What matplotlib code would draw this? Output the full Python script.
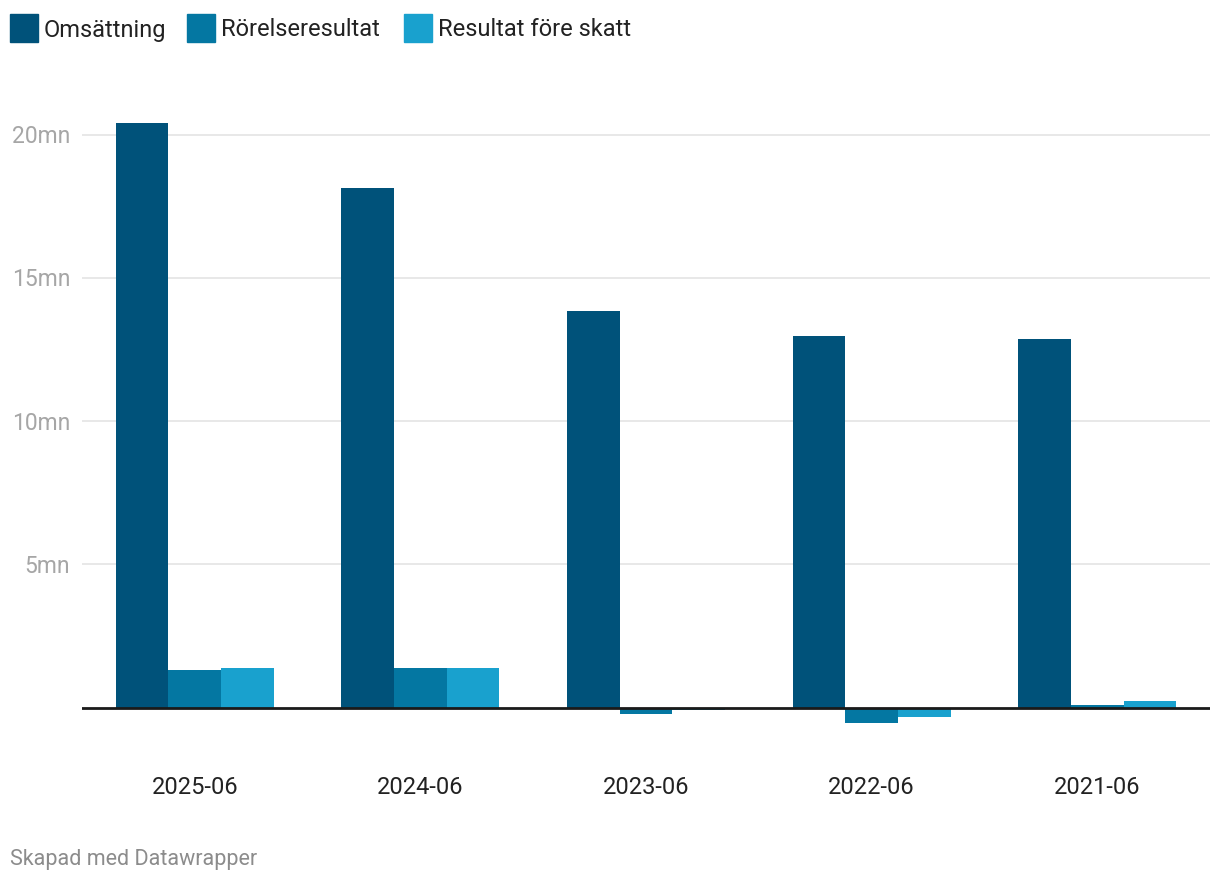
"""Bar chart: Omsättning, Rörelseresultat, Resultat före skatt per år."""

import matplotlib.pyplot as plt
import numpy as np
from matplotlib.patches import Rectangle

plt.rcParams["font.family"] = ["Roboto", "DejaVu Sans"]

periods = ["2025-06", "2024-06", "2023-06", "2022-06", "2021-06"]
series_names = ["Omsättning", "Rörelseresultat", "Resultat före skatt"]
omsattning = [20.41, 18.14, 13.84, 12.96, 12.86]
rorelseresultat = [1.31, 1.38, -0.23, -0.54, 0.10]
resultat_fore_skatt = [1.38, 1.38, -0.09, -0.33, 0.23]
y_ticks = [5, 10, 15, 20]
y_tick_labels = ["5mn", "10mn", "15mn", "20mn"]

colors = ["#00527a", "#0477a2", "#19a1ce"]

W, H = 1220, 882
fig = plt.figure(figsize=(W / 100, H / 100), dpi=100)

# axes placed in pixel terms
y_lo, y_hi = -1.2, 21.2
px_per_unit = 28.64
zero_px = 707.5
top_px = zero_px - y_hi * px_per_unit
bot_px = zero_px - y_lo * px_per_unit
left_px, right_px = 82, 1210
ax = fig.add_axes([
    left_px / W,
    1 - bot_px / H,
    (right_px - left_px) / W,
    (bot_px - top_px) / H,
])
ax.set_xlim(-0.5, len(periods) - 0.5)
ax.set_ylim(y_lo, y_hi)

x = np.arange(len(periods))
bar_w = 0.7 / 3
for i, (vals, col) in enumerate(zip([omsattning, rorelseresultat, resultat_fore_skatt], colors)):
    ax.bar(x + (i - 1) * bar_w, vals, width=bar_w, color=col, linewidth=0, zorder=2)

for t in y_ticks:
    ax.axhline(t, color="#e6e6e6", linewidth=1.3, zorder=1)
ax.axhline(0, color="#1a1a1a", linewidth=2, zorder=3)

for sp in ax.spines.values():
    sp.set_visible(False)
ax.set_yticks([])
ax.set_xticks(x)
ax.set_xticklabels(periods, fontsize=17, color="#222222")
ax.tick_params(axis="x", length=0, pad=24.5)

# y labels sit left of the gridlines
for t, lab in zip(y_ticks, y_tick_labels):
    ax.annotate(lab, xy=(0, t), xycoords=("axes fraction", "data"),
                xytext=(-12, -2), textcoords="offset pixels",
                ha="right", va="center", fontsize=16.5, color="#a6a6a6")

# legend
leg_x = [10, 187, 404]
for lx, name, col in zip(leg_x, series_names, colors):
    fig.patches.append(Rectangle((lx / W, 1 - 42 / H), 28 / W, 28 / H,
                                 transform=fig.transFigure, color=col))
    fig.text((lx + 34) / W, 1 - 30 / H, name, ha="left", va="center",
             fontsize=17, color="#222222")

fig.text(10 / W, 1 - 860 / H, "Skapad med Datawrapper", ha="left", va="center",
         fontsize=15.5, color="#8c8c8c")

fig.savefig("out.png", dpi=100)
plt.close()
